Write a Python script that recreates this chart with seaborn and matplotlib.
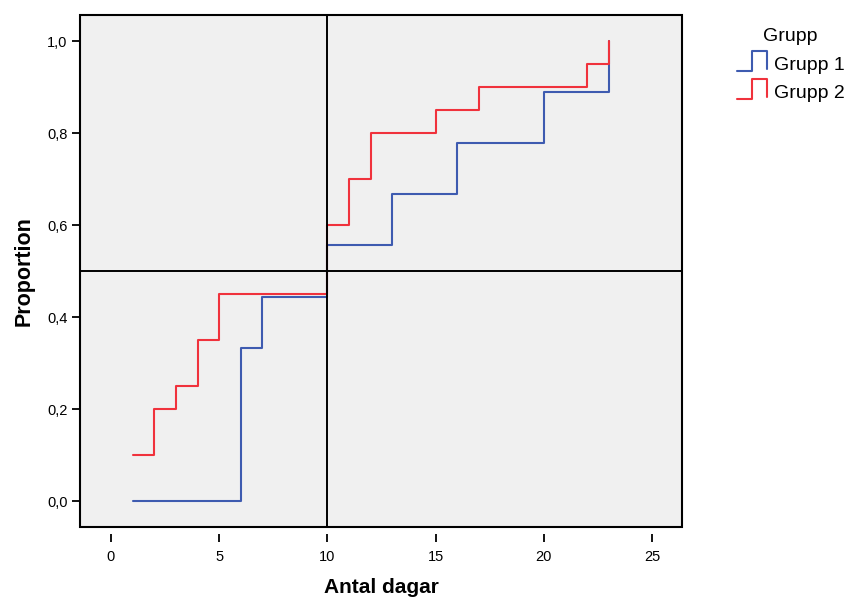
import matplotlib
matplotlib.use("Agg")
import matplotlib.pyplot as plt
from matplotlib.lines import Line2D
from matplotlib.legend_handler import HandlerLine2D
from matplotlib.patches import Rectangle
from matplotlib.ticker import FuncFormatter
import seaborn as sns
import pandas as pd

# Cumulative proportion per group at each observed number of days
grupp1_dagar = [1, 6, 7, 10, 13, 16, 20, 23]
grupp1_andel = [0.0, 0.333, 0.444, 0.556, 0.667, 0.778, 0.889, 1.0]
grupp2_dagar = [1, 2, 3, 4, 5, 10, 11, 12, 15, 17, 22, 23]
grupp2_andel = [0.10, 0.20, 0.25, 0.35, 0.45, 0.60, 0.70, 0.80, 0.85, 0.90, 0.95, 1.0]
grupper = ["Grupp 1", "Grupp 2"]
x_ticks = [0, 5, 10, 15, 20, 25]
y_ticks = [0.0, 0.2, 0.4, 0.6, 0.8, 1.0]
ref_x = 10
ref_y = 0.5

df = pd.concat([
    pd.DataFrame({"Antal dagar": grupp1_dagar, "Proportion": grupp1_andel, "Grupp": grupper[0]}),
    pd.DataFrame({"Antal dagar": grupp2_dagar, "Proportion": grupp2_andel, "Grupp": grupper[1]}),
])

sns.set_style("white")
plt.rcParams["font.family"] = ["Liberation Sans", "DejaVu Sans"]
plt.rcParams["text.color"] = "black"
plt.rcParams["axes.labelcolor"] = "black"

farger = {"Grupp 1": "#3e5bb0", "Grupp 2": "#f0323c"}

fig = plt.figure(figsize=(8.48, 5.98), dpi=100)
ax = fig.add_axes([80 / 848, 1 - 527 / 598, (682 - 80) / 848, (527 - 15) / 598])
ax.set_facecolor("#f0f0f0")

sns.lineplot(data=df, x="Antal dagar", y="Proportion", hue="Grupp",
             palette=farger, estimator=None, sort=True,
             drawstyle="steps-post", linewidth=1.5, legend=False, ax=ax, zorder=3)

ax.axvline(ref_x, color="black", linewidth=1.4, zorder=4)
ax.axhline(ref_y, color="black", linewidth=1.4, zorder=4)

ax.set_xlim(-1.43, 26.39)
ax.set_ylim(-0.0565, 1.057)
ax.set_xticks(x_ticks)
ax.set_yticks(y_ticks)
ax.yaxis.set_major_formatter(FuncFormatter(lambda v, p: f"{v:.1f}".replace(".", ",")))

# frame drawn as a box; bottom spine pushed out so x ticks hang below it
for s in ax.spines.values():
    s.set_visible(False)
ax.spines["bottom"].set_position(("outward", 5))
ax.add_patch(Rectangle((0, 0), 1, 1, transform=ax.transAxes, fill=False,
                       edgecolor="black", linewidth=1.5, zorder=5, clip_on=False))

ax.tick_params(axis="both", which="major", direction="out", length=6, width=1.3,
               color="black", labelsize=10.5, labelcolor="black",
               bottom=True, left=True, top=False, right=False)
ax.tick_params(axis="x", pad=5.5)
ax.tick_params(axis="y", pad=3)
ax.grid(False)

ax.set_xlabel("Antal dagar", fontsize=15, fontweight="bold", labelpad=10)
ax.set_ylabel("Proportion", fontsize=15.5, fontweight="bold", labelpad=9)


class StegHandler(HandlerLine2D):
    def create_artists(self, legend, orig_handle, xdescent, ydescent, width,
                       height, fontsize, trans):
        x0, x1 = -xdescent, -xdescent + width
        xm = x0 + width * 0.53
        mid = -ydescent + height / 2
        ylo = mid - 0.6 * height
        yhi = mid + 0.9 * height
        line = Line2D([x0, xm, xm, x1, x1], [ylo, ylo, yhi, yhi, mid - 0.45 * height],
                      color=orig_handle.get_color(), linewidth=1.5)
        line.set_transform(trans)
        return [line]


handles = [Line2D([], [], color=farger[g]) for g in grupper]
leg = fig.legend(handles, grupper, title="Grupp", loc="upper left",
                 bbox_to_anchor=(719 / 848, 1 - 11 / 598), frameon=False,
                 fontsize=14, title_fontsize=14, handlelength=1.55,
                 handletextpad=0.36, labelspacing=0.55,
                 handler_map={Line2D: StegHandler()})

fig.savefig("out.png", dpi=100)
